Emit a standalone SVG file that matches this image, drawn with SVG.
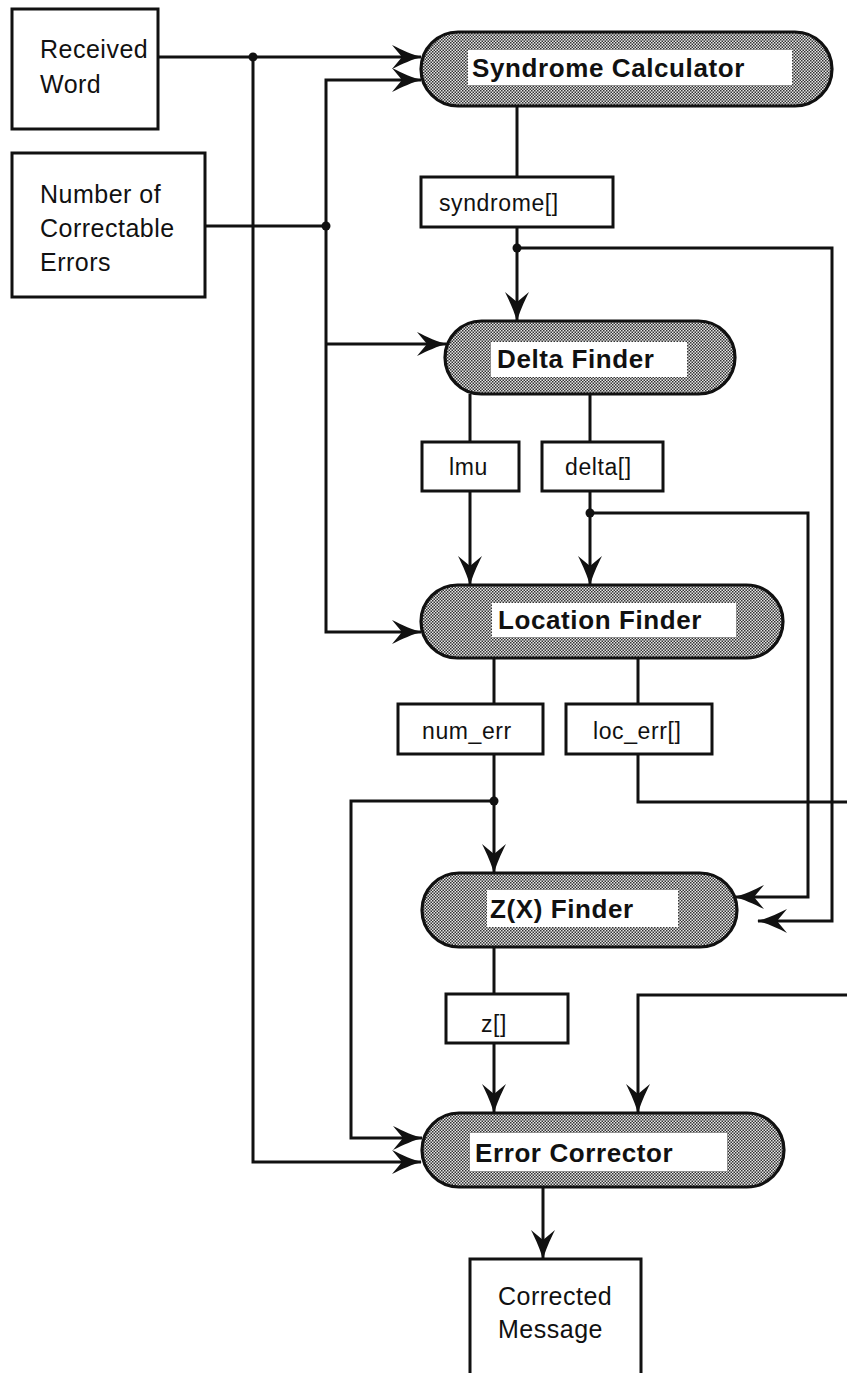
<svg xmlns="http://www.w3.org/2000/svg" width="847" height="1373" viewBox="0 0 847 1373">
<style>
.box{fill:#fff;stroke:#111;stroke-width:3}
.pill{fill:url(#dots);stroke:#111;stroke-width:3.2}
.inner{fill:#fff;stroke:none}
.big{font-family:"Liberation Sans",Arial,sans-serif;font-size:25px;letter-spacing:0.5px;fill:#111}
.lbl{font-family:"Liberation Sans",Arial,sans-serif;font-size:23px;letter-spacing:0.6px;fill:#111}
.proc{font-family:"Liberation Sans",Arial,sans-serif;font-size:26px;font-weight:bold;letter-spacing:0.6px;fill:#111}
.wire{fill:none;stroke:#111;stroke-width:3}
.arr{marker-end:url(#arrow)}
.dot{fill:#111}
</style>
<defs>
<pattern id="dots" width="3" height="3" patternUnits="userSpaceOnUse">
<rect width="3" height="3" fill="#e6e6e6"/>
<rect width="1.5" height="1.5" fill="#333"/>
<rect x="1.5" y="1.5" width="1.5" height="1.5" fill="#333"/>
</pattern>
<marker id="arrow" markerUnits="userSpaceOnUse" orient="auto" overflow="visible" markerWidth="1" markerHeight="1" refX="0" refY="0">
<path d="M1,0 C-8,-2 -19,-7 -29,-12 L-19,0 L-29,12 C-19,7 -8,2 1,0 Z" fill="#111"/>
</marker>
</defs>
<rect width="847" height="1373" fill="#fff"/>

<g id="connectors">
<path class="wire arr" d="M158,57 H421"/>
<path class="wire arr" d="M253,57 V1162 H421"/>
<path class="wire" d="M205,226 H326"/>
<path class="wire arr" d="M326,226 V80 H421"/>
<path class="wire arr" d="M326,226 V632 H421"/>
<path class="wire arr" d="M326,344 H446"/>
<path class="wire" d="M517,106 V177"/>
<path class="wire arr" d="M517,227 V321"/>
<path class="wire arr" d="M517,248 H832 V921 H758"/>
<path class="wire" d="M470,394 V442"/>
<path class="wire arr" d="M470,491 V585"/>
<path class="wire" d="M590,394 V442"/>
<path class="wire arr" d="M590,491 V585"/>
<path class="wire arr" d="M590,513 H808 V897 H735"/>
<path class="wire" d="M494,658 V704"/>
<path class="wire arr" d="M494,754 V873"/>
<path class="wire arr" d="M494,801 H351 V1138 H422"/>
<path class="wire" d="M638,658 V704"/>
<path class="wire" d="M638,754 V802 H847"/>
<path class="wire" d="M494,947 V994"/>
<path class="wire arr" d="M494,1043 V1113"/>
<path class="wire arr" d="M847,995 H638 V1113"/>
<path class="wire arr" d="M543,1187 V1259"/>
<circle class="dot" cx="253" cy="57" r="4.5"/>
<circle class="dot" cx="326" cy="226" r="4.5"/>
<circle class="dot" cx="517" cy="248" r="4.5"/>
<circle class="dot" cx="590" cy="513" r="4.5"/>
<circle class="dot" cx="494" cy="801" r="4.5"/>
</g>

<g id="received-word">
<rect class="box" x="12" y="9" width="146" height="120"/>
<text class="big" x="40" y="58">Received</text>
<text class="big" x="40" y="93">Word</text>
</g>

<g id="num-correctable">
<rect class="box" x="12" y="153" width="193" height="144"/>
<text class="big" x="40" y="203">Number of</text>
<text class="big" x="40" y="237">Correctable</text>
<text class="big" x="40" y="271">Errors</text>
</g>

<g id="syndrome-calculator">
<rect class="pill" x="421" y="32" width="411" height="74" rx="37"/>
<rect class="inner" x="468" y="50" width="324" height="35"/>
<text class="proc" x="472" y="77">Syndrome Calculator</text>
</g>

<g id="syndrome-data">
<rect class="box" x="421" y="177" width="192" height="50"/>
<text class="lbl" x="439" y="211">syndrome[]</text>
</g>

<g id="delta-finder">
<rect class="pill" x="445" y="321" width="290" height="73" rx="36.5"/>
<rect class="inner" x="491" y="342" width="196" height="35"/>
<text class="proc" x="497" y="368">Delta Finder</text>
</g>

<g id="lmu">
<rect class="box" x="422" y="442" width="97" height="49"/>
<text class="lbl" x="449" y="475">lmu</text>
</g>

<g id="delta-data">
<rect class="box" x="542" y="442" width="121" height="49"/>
<text class="lbl" x="565" y="475">delta[]</text>
</g>

<g id="location-finder">
<rect class="pill" x="421" y="585" width="362" height="73" rx="36.5"/>
<rect class="inner" x="492" y="603" width="244" height="34"/>
<text class="proc" x="498" y="629">Location Finder</text>
</g>

<g id="num-err">
<rect class="box" x="398" y="704" width="145" height="50"/>
<text class="lbl" x="422" y="739">num_err</text>
</g>

<g id="loc-err">
<rect class="box" x="566" y="704" width="146" height="50"/>
<text class="lbl" x="593" y="739">loc_err[]</text>
</g>

<g id="zx-finder">
<rect class="pill" x="422" y="873" width="315" height="74" rx="37"/>
<rect class="inner" x="487" y="890" width="191" height="37"/>
<text class="proc" x="490" y="918">Z(X) Finder</text>
</g>

<g id="z-data">
<rect class="box" x="446" y="994" width="122" height="49"/>
<text class="lbl" x="481" y="1032">z[]</text>
</g>

<g id="error-corrector">
<rect class="pill" x="422" y="1113" width="362" height="74" rx="37"/>
<rect class="inner" x="470" y="1133" width="257" height="38"/>
<text class="proc" x="475" y="1162">Error Corrector</text>
</g>

<g id="corrected-message">
<path class="box" d="M470,1380 V1259 H641 V1380"/>
<text class="big" x="498" y="1305">Corrected</text>
<text class="big" x="498" y="1338">Message</text>
</g>
</svg>
